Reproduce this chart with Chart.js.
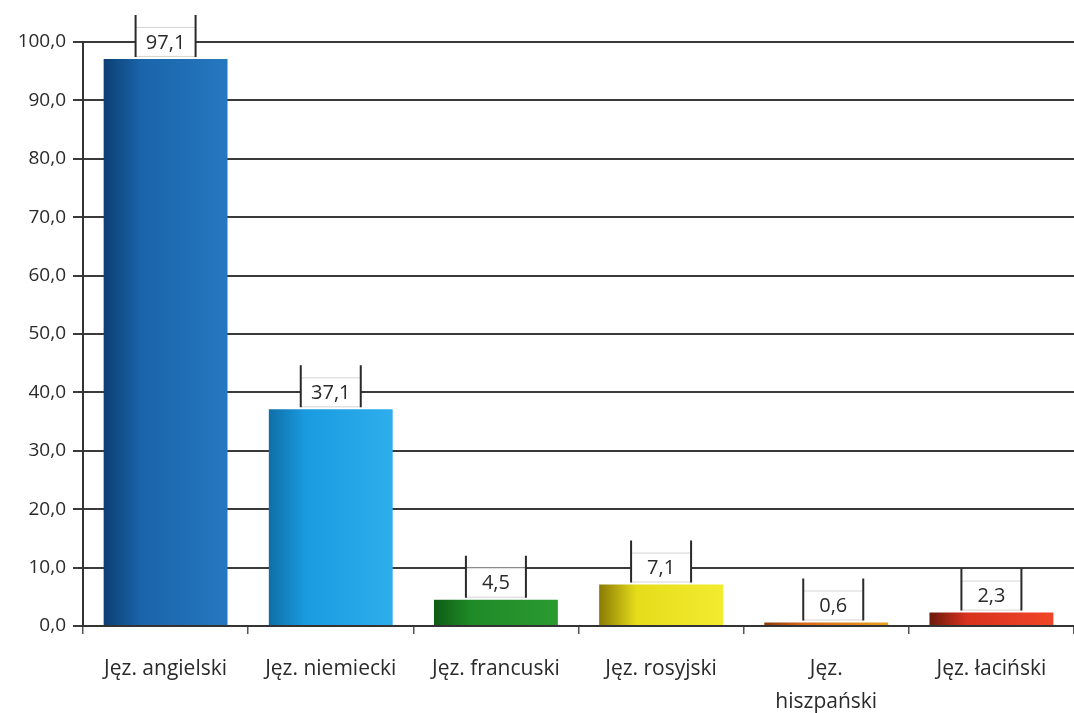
<!DOCTYPE html>
<html>
<head>
<meta charset="utf-8">
<script src="https://cdn.jsdelivr.net/npm/chart.js@4/dist/chart.umd.min.js"></script>
<style>
  html, body { margin: 0; padding: 0; background: #fff; overflow: hidden; }
  #wrap { width: 1074px; height: 713px; }
</style>
</head>
<body>
<div id="wrap"><canvas id="langChart" width="1074" height="713"></canvas></div>
<script>
// data
const categories = ['Jęz. angielski', 'Jęz. niemiecki', 'Jęz. francuski', 'Jęz. rosyjski', ['Jęz.', 'hiszpański'], 'Jęz. łaciński'];
const values = [97.1, 37.1, 4.5, 7.1, 0.6, 2.3];
const yTicks = [0, 10, 20, 30, 40, 50, 60, 70, 80, 90, 100];

// bar colours: [dark edge, middle, light edge]
const barColors = [
  ['#0d3f73', '#1a64aa', '#2578c0'],
  ['#0f6fa8', '#1a9be0', '#2eaeec'],
  ['#0e5c14', '#1f8a28', '#2a9a30'],
  ['#8a7a05', '#e6dc1a', '#f2ec30'],
  ['#8a3a08', '#d8661a', '#e8a020'],
  ['#6a1a0c', '#d8321e', '#f04628']
];

const fmt = v => v.toFixed(1).replace('.', ',');
const FONT = '"Open Sans", "DejaVu Sans", sans-serif';

function barGradient(ctx) {
  const chart = ctx.chart;
  const area = chart.chartArea;
  const cols = barColors[ctx.dataIndex];
  if (!area) return cols[1];
  const xs = chart.scales.x;
  const cx = xs.getPixelForValue(ctx.dataIndex);
  const half = (area.right - area.left) / categories.length * 0.75 / 2;
  const g = chart.ctx.createLinearGradient(cx - half, 0, cx + half, 0);
  g.addColorStop(0, cols[0]);
  g.addColorStop(0.3, cols[1]);
  g.addColorStop(1, cols[2]);
  return g;
}

// boxed value labels above each bar
const valueBoxes = {
  id: 'valueBoxes',
  afterDatasetsDraw(chart) {
    const c = chart.ctx;
    const meta = chart.getDatasetMeta(0);
    c.save();
    meta.data.forEach((bar, i) => {
      const w = 60, h = 30;
      const bottom = bar.y - 2;
      const top = bottom - h;
      const left = bar.x - w / 2 + (values[i] < 1 ? 7 : 0);
      c.fillStyle = '#ffffff';
      c.fillRect(left, top, w, h);
      c.strokeStyle = '#d4d4d4';
      c.lineWidth = 1;
      c.beginPath();
      c.moveTo(left, top + 0.5); c.lineTo(left + w, top + 0.5);
      c.moveTo(left, bottom - 0.5); c.lineTo(left + w, bottom - 0.5);
      c.stroke();
      c.strokeStyle = '#2a2a2a';
      c.lineWidth = 2;
      c.beginPath();
      c.moveTo(left, top - 12); c.lineTo(left, bottom);
      c.moveTo(left + w, top - 12); c.lineTo(left + w, bottom);
      c.stroke();
      c.fillStyle = '#2a2a2a';
      c.font = '20px ' + FONT;
      c.textAlign = 'center';
      c.textBaseline = 'middle';
      c.fillText(fmt(values[i]), left + w / 2, top + h / 2 + 1);
    });
    c.restore();
  }
};

new Chart(document.getElementById('langChart').getContext('2d'), {
  type: 'bar',
  data: {
    labels: categories,
    datasets: [{
      data: values,
      backgroundColor: barGradient,
      borderWidth: 0,
      barPercentage: 0.75,
      categoryPercentage: 1
    }]
  },
  options: {
    responsive: false,
    animation: false,
    layout: { padding: { top: 42, left: 0, right: 0, bottom: 0 } },
    plugins: { legend: { display: false }, tooltip: { enabled: false } },
    scales: {
      x: {
        offset: true,
        grid: { offset: true, drawOnChartArea: false, color: '#555', tickLength: 8, lineWidth: 1.5 },
        border: { color: '#333', width: 2 },
        ticks: { color: '#2a2a2a', font: { family: FONT, size: 21, lineHeight: 1.6 }, padding: 18, maxRotation: 0, autoSkip: false },
        afterFit(scale) { scale.height = 87; }
      },
      y: {
        min: 0,
        max: 100,
        afterBuildTicks(scale) { scale.ticks = yTicks.map(v => ({ value: v })); },
        grid: { color: '#3a3a3a', lineWidth: 2, tickLength: 10 },
        border: { color: '#333', width: 2 },
        ticks: { color: '#2a2a2a', font: { family: FONT, size: 19 }, padding: 7, callback: v => fmt(v) },
        afterFit(scale) { scale.width = 83; }
      }
    }
  },
  plugins: [valueBoxes]
});
</script>
</body>
</html>
